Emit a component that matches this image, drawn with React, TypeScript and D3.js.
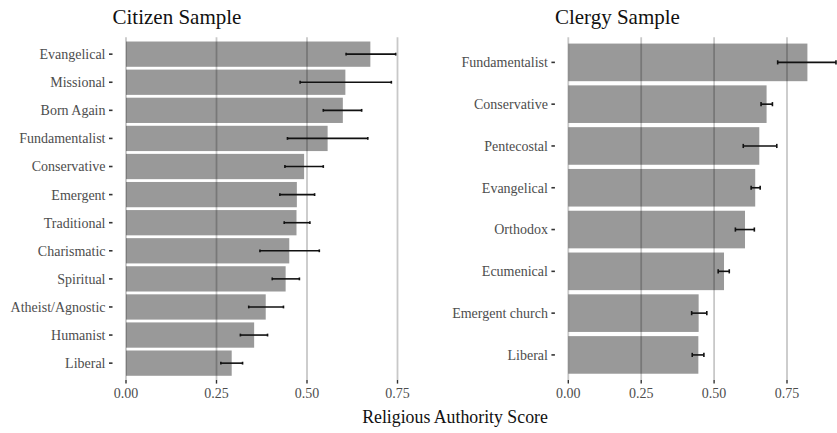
import React from "react";
import * as d3 from "d3";

// Citizen sample: mean religious authority score with 95% interval
const citizenCategories = [
  "Evangelical", "Missional", "Born Again", "Fundamentalist", "Conservative", "Emergent",
  "Traditional", "Charismatic", "Spiritual", "Atheist/Agnostic", "Humanist", "Liberal",
];
const citizenScores = [0.675, 0.606, 0.599, 0.557, 0.492, 0.472, 0.471, 0.451, 0.441, 0.386, 0.354, 0.292];
const citizenLower = [0.608, 0.481, 0.545, 0.446, 0.439, 0.425, 0.437, 0.370, 0.404, 0.339, 0.316, 0.262];
const citizenUpper = [0.745, 0.733, 0.651, 0.668, 0.545, 0.521, 0.508, 0.534, 0.479, 0.435, 0.391, 0.322];

// Clergy sample
const clergyCategories = [
  "Fundamentalist", "Conservative", "Pentecostal", "Evangelical",
  "Orthodox", "Ecumenical", "Emergent church", "Liberal",
];
const clergyScores = [0.820, 0.680, 0.655, 0.641, 0.606, 0.534, 0.447, 0.446];
const clergyLower = [0.718, 0.661, 0.600, 0.627, 0.573, 0.514, 0.423, 0.425];
const clergyUpper = [0.918, 0.700, 0.715, 0.658, 0.638, 0.552, 0.475, 0.465];

const xTicks = [0, 0.25, 0.5, 0.75];
const xTickLabels = ["0.00", "0.25", "0.50", "0.75"];

const FONT = "Liberation Serif";
const PANEL_TOP = 37.3;
const PANEL_BOTTOM = 380;

type PanelProps = {
  title: string;
  categories: string[];
  scores: number[];
  lower: number[];
  upper: number[];
  zeroX: number;
  unitPx: number;
};

function Panel({ title, categories, scores, lower, upper, zeroX, unitPx }: PanelProps) {
  const maxVal = d3.max(upper) as number;
  const pad = maxVal * 0.05;
  const x = d3
    .scaleLinear()
    .domain([-pad, maxVal + pad])
    .range([zeroX - pad * unitPx, zeroX + (maxVal + pad) * unitPx]);
  const left = x.range()[0];
  const y = d3
    .scaleBand<string>()
    .domain(categories)
    .range([PANEL_TOP, PANEL_BOTTOM])
    .paddingInner(0.1)
    .paddingOuter(0.15);
  const bw = y.bandwidth();
  const capH = y.step() * 0.1;

  return (
    <g>
      <text x={left} y={23.5} fontSize={21} style={{ fontFamily: FONT }} fill="#111">
        {title}
      </text>
      {/* vertical grid */}
      {xTicks.map((t) => (
        <line key={"g" + t} x1={x(t)} x2={x(t)} y1={PANEL_TOP} y2={PANEL_BOTTOM} stroke="#c8c8c8" strokeWidth={1.8} />
      ))}
      {/* bars */}
      {categories.map((c, i) => (
        <rect key={c} x={x(0)} y={y(c)} width={x(scores[i]) - x(0)} height={bw} fill="#000" fillOpacity={0.4} />
      ))}
      {/* error bars */}
      {categories.map((c, i) => {
        const cy = (y(c) as number) + bw / 2;
        return (
          <g key={"e" + c} stroke="#111" strokeWidth={1.6}>
            <line x1={x(lower[i])} x2={x(upper[i])} y1={cy} y2={cy} />
            <line x1={x(lower[i])} x2={x(lower[i])} y1={cy - capH / 2} y2={cy + capH / 2} />
            <line x1={x(upper[i])} x2={x(upper[i])} y1={cy - capH / 2} y2={cy + capH / 2} />
          </g>
        );
      })}
      {/* y axis */}
      {categories.map((c) => {
        const cy = (y(c) as number) + bw / 2;
        return (
          <g key={"y" + c}>
            <line x1={left - 3.5} x2={left} y1={cy} y2={cy} stroke="#333" strokeWidth={1.6} />
            <text
              x={left - 7}
              y={cy}
              dy="0.35em"
              textAnchor="end"
              fontSize={14}
              style={{ fontFamily: FONT }}
              fill="#4d4d4d"
            >
              {c}
            </text>
          </g>
        );
      })}
      {/* x axis */}
      {xTicks.map((t, i) => (
        <g key={"x" + t}>
          <line x1={x(t)} x2={x(t)} y1={PANEL_BOTTOM} y2={PANEL_BOTTOM + 3.6} stroke="#333" strokeWidth={1.4} />
          <text x={x(t)} y={398} textAnchor="middle" fontSize={14} style={{ fontFamily: FONT }} fill="#4d4d4d">
            {xTickLabels[i]}
          </text>
        </g>
      ))}
    </g>
  );
}

export default function App() {
  return (
    <svg
      width={837}
      height={433}
      viewBox="0 0 837 433"
      style={{ position: "absolute", left: 0, top: 0, background: "#fff" }}
    >
      <rect width={837} height={433} fill="#fff" />
      <Panel
        title="Citizen Sample"
        categories={citizenCategories}
        scores={citizenScores}
        lower={citizenLower}
        upper={citizenUpper}
        zeroX={126}
        unitPx={362}
      />
      <Panel
        title="Clergy Sample"
        categories={clergyCategories}
        scores={clergyScores}
        lower={clergyLower}
        upper={clergyUpper}
        zeroX={568.3}
        unitPx={291.6}
      />
      <text x={455} y={423} textAnchor="middle" fontSize={17.8} style={{ fontFamily: FONT }} fill="#111">
        Religious Authority Score
      </text>
    </svg>
  );
}
